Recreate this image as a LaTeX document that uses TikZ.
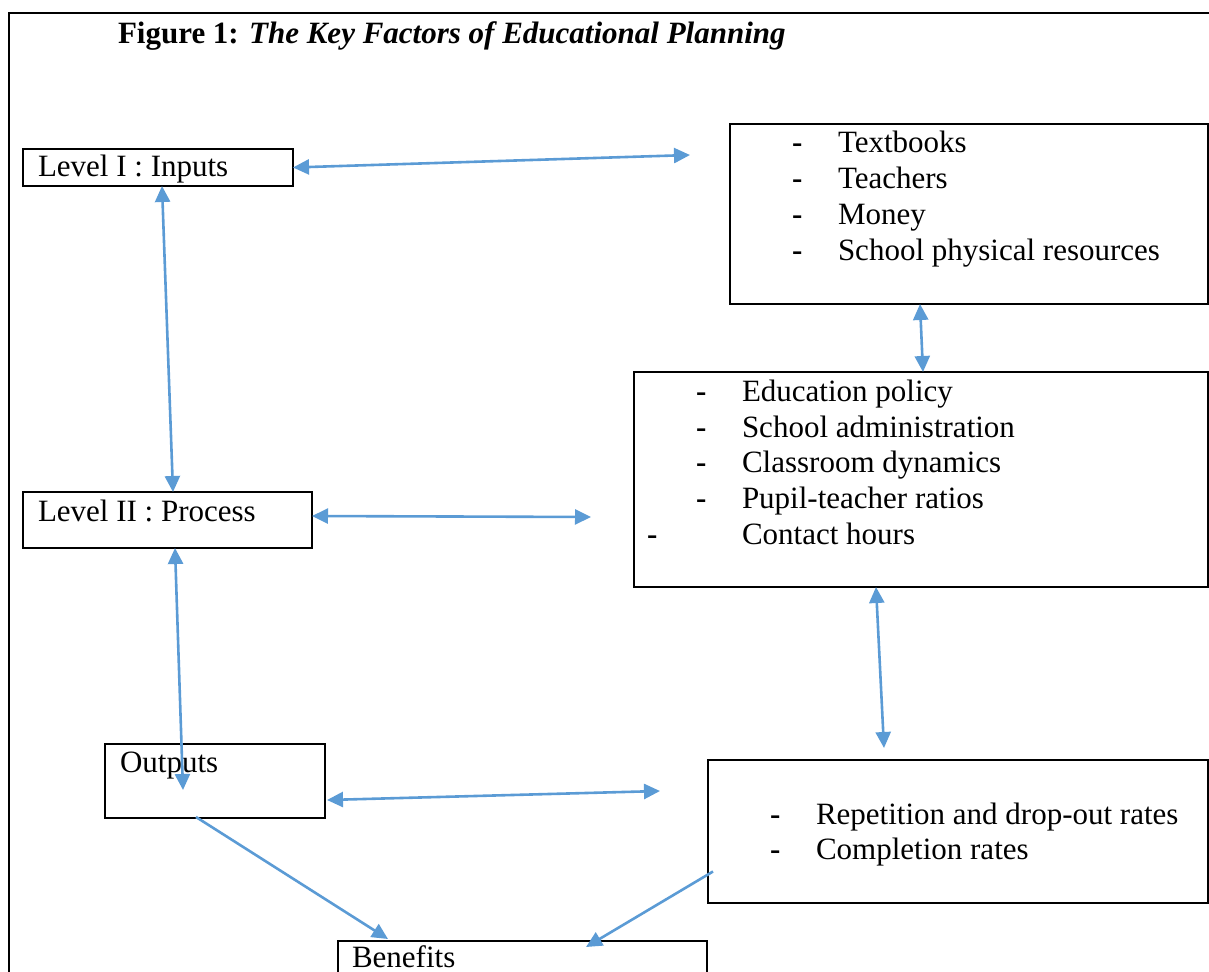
\documentclass[tikz,border=0pt]{standalone}
\usepackage{fontspec}
\setmainfont{Liberation Serif}
\usetikzlibrary{arrows.meta,calc}
\definecolor{arrowblue}{HTML}{5B9BD5}
\tikzset{
  box/.style={draw=black, line width=2.6pt, inner sep=0pt, outer sep=0pt, fill=none},
  txt/.style={anchor=base west, inner sep=0pt, outer sep=0pt, font=\fontsize{31}{36}\selectfont},
  link/.style={draw=arrowblue, line width=2.6pt, {Triangle[length=16pt,width=15pt]}-{Triangle[length=16pt,width=15pt]}},
  onelink/.style={draw=arrowblue, line width=2.6pt, -{Triangle[length=16pt,width=15pt]}}
}
\newcommand{\dsh}{\textbf{-}}
\begin{document}
\begin{tikzpicture}[x=1pt,y=-1pt]
\useasboundingbox (0,0) rectangle (1209,971);
% outer frame
\node[box, minimum width=1230, minimum height=1000, anchor=north west] (frame) at (9,13) {};
% title
\node[txt, font=\fontsize{31}{36}\selectfont\bfseries] (title) at (118,44) {Figure 1: \textit{The Key Factors of Educational Planning}};
% boxes
\node[box, minimum width=270, minimum height=37, anchor=north west] (l1) at (23,149) {};
\node[txt] (l1t) at (38,176) {Level I : Inputs};
\node[box, minimum width=478, minimum height=180, anchor=north west] (inl) at (730,124) {};
\foreach \t/\y [count=\i] in {Textbooks/152, Teachers/188, Money/224, School physical resources/260}{
  \node[txt] (ind\i) at (792,\y) {\dsh};
  \node[txt] (int\i) at (838,\y) {\t};
}
\node[box, minimum width=289, minimum height=56, anchor=north west] (l2) at (23,492) {};
\node[txt] (l2t) at (38,521) {Level II : Process};
\node[box, minimum width=574, minimum height=215, anchor=north west] (prl) at (634,372) {};
\foreach \t/\y [count=\i] in {Education policy/401, School administration/437, Classroom dynamics/472, Pupil-teacher ratios/508}{
  \node[txt] (prd\i) at (696,\y) {\dsh};
  \node[txt] (prt\i) at (742,\y) {\t};
}
\node[txt] (prd5) at (647,544) {\dsh};
\node[txt] (prt5) at (742,544) {Contact hours};
\node[box, minimum width=220, minimum height=74, anchor=north west] (out) at (105,744) {};
\node[txt] (outt) at (120,772) {Outputs};
\node[box, minimum width=500, minimum height=143, anchor=north west] (outl) at (708,760) {};
\node[txt] (outd1) at (770,824) {\dsh};
\node[txt] (outt1) at (816,824) {Repetition and drop-out rates};
\node[txt] (outd2) at (770,859) {\dsh};
\node[txt] (outt2) at (816,859) {Completion rates};
\node[box, minimum width=369, minimum height=60, anchor=north west] (ben) at (338,941) {};
\node[txt] (bent) at (352,967) {Benefits};
% free ends
\coordinate (c1) at (690,155);
\coordinate (c4) at (591,517);
\coordinate (c5) at (183,790);
\coordinate (c6) at (884,748);
\coordinate (c7) at (660,791);
% connectors
\draw[link] (l1.east) -- (c1);
\draw[link] ($(l1.south west)+(139,0)$) -- ($(l2.north west)+(150,0)$);
\draw[link] ($(inl.south west)+(190,0)$) -- ($(prl.north west)+(289,0)$);
\draw[link] ($(l2.east)+(0,-4)$) -- (c4);
\draw[link] ($(l2.south west)+(152,0)$) -- (c5);
\draw[link] ($(prl.south west)+(242,0)$) -- (c6);
\draw[link] ($(out.east)+(2,19)$) -- (c7);
\draw[onelink] ($(out.south west)+(91,-1)$) -- ($(ben.north west)+(50,-2)$);
\draw[onelink] ($(outl.west)+(5,40)$) -- ($(ben.north west)+(248,6)$);
\end{tikzpicture}
\end{document}
